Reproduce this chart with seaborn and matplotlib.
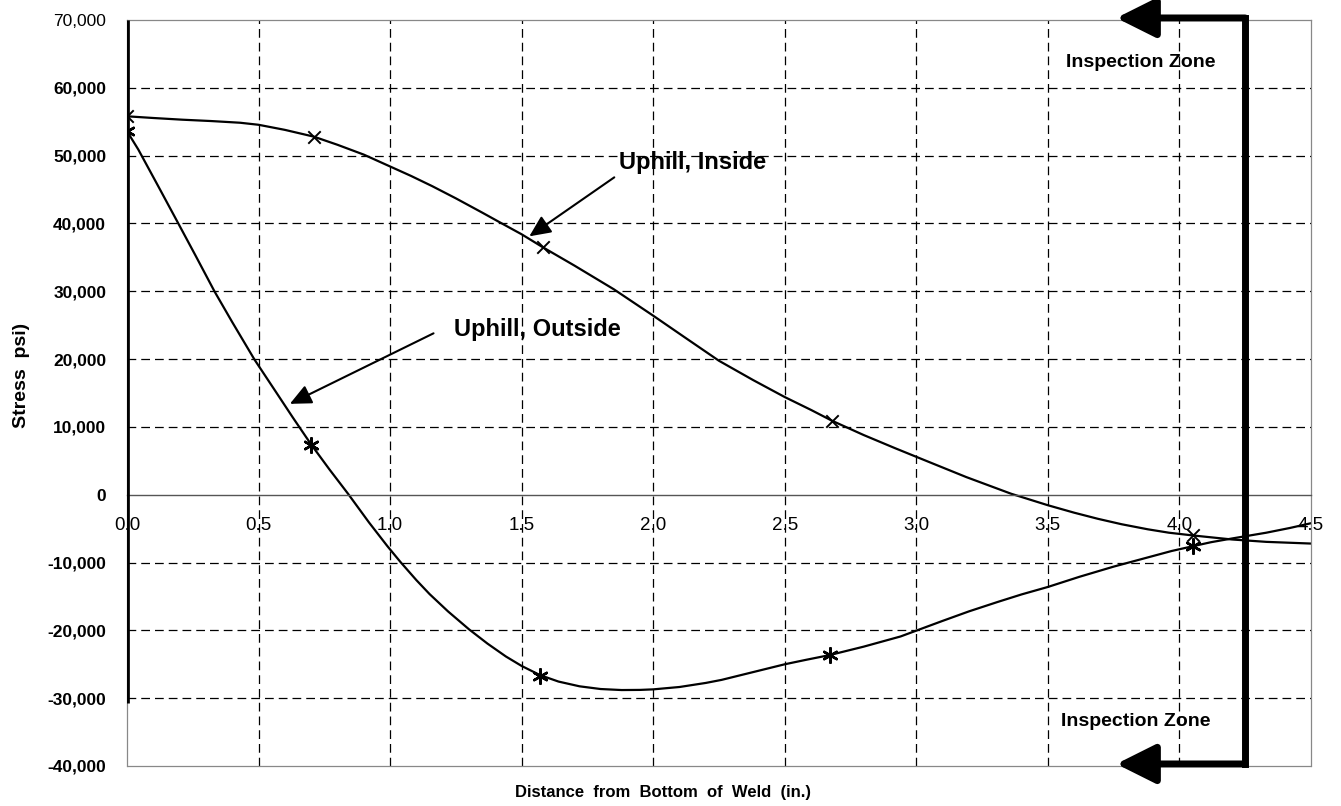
import numpy as np
import pandas as pd
import matplotlib
matplotlib.use('Agg')
import matplotlib.pyplot as plt
import seaborn as sns

# Marker points
inside_mx = [0.0, 0.71, 1.58, 2.68, 4.05]
inside_my = [55800, 52800, 36500, 10900, -6000]
outside_mx = [0.0, 0.70, 1.57, 2.67, 4.05]
outside_my = [53600, 7400, -26700, -23650, -7600]

# Traced points along the smoothed curves
inside_x = [0.0, 0.10, 0.21, 0.32, 0.43, 0.50, 0.60, 0.71, 0.80, 0.90, 1.00, 1.08, 1.16, 1.25,
            1.35, 1.42, 1.50, 1.58, 1.70, 1.85, 2.00, 2.12, 2.25, 2.38, 2.50, 2.60, 2.68, 2.80,
            2.92, 3.05, 3.19, 3.36, 3.50, 3.60, 3.69, 3.78, 3.88, 3.96, 4.05, 4.20, 4.33, 4.50]
inside_y = [55800, 55550, 55300, 55100, 54850, 54550, 53800, 52800, 51600, 50150, 48400, 47000,
            45500, 43700, 41600, 40100, 38400, 36500, 33800, 30300, 26400, 23200, 19750, 16900,
            14400, 12500, 10900, 8800, 6850, 4800, 2600, 150, -1550, -2650, -3550, -4350, -5100,
            -5600, -6000, -6600, -6950, -7200]
outside_x = [0.0, 0.043, 0.12, 0.195, 0.26, 0.333, 0.40, 0.485, 0.567, 0.63, 0.70, 0.77, 0.84,
             0.92, 0.99, 1.04, 1.10, 1.15, 1.22, 1.30, 1.37, 1.44, 1.50, 1.57, 1.64, 1.72, 1.80,
             1.88, 1.95, 2.00, 2.10, 2.20, 2.26, 2.38, 2.50, 2.58, 2.67, 2.80, 2.94, 3.10, 3.20,
             3.31, 3.40, 3.50, 3.62, 3.75, 3.86, 3.97, 4.05, 4.12, 4.20, 4.33, 4.42, 4.50]
outside_y = [53600, 50900, 45400, 40000, 35300, 29950, 25450, 19900, 15100, 11400, 7400, 3700,
             150, -4100, -7600, -9950, -12600, -14650, -17200, -19850, -21950, -23850, -25250,
             -26600, -27550, -28250, -28650, -28800, -28780, -28700, -28350, -27750, -27300,
             -26150, -25000, -24350, -23650, -22400, -20900, -18600, -17200, -15800, -14700,
             -13600, -12100, -10600, -9450, -8300, -7600, -7000, -6450, -5600, -4900, -4200]

x_ticks = [0.0, 0.5, 1.0, 1.5, 2.0, 2.5, 3.0, 3.5, 4.0, 4.5]
y_ticks = [-40000, -30000, -20000, -10000, 0, 10000, 20000, 30000, 40000, 50000, 60000, 70000]

# inspection zone marker and the thick bar at x = 0
zone_x = 4.25
zone_top, zone_bottom = 70300, -39700
zone_tip = 3.76
bar_top, bar_bottom = 70000, -30700

sns.set_style('white')
plt.rcParams['font.family'] = ['Liberation Sans', 'DejaVu Sans']
for key in ['text.color', 'axes.labelcolor', 'xtick.color', 'ytick.color']:
    plt.rcParams[key] = 'black'

fig = plt.figure(figsize=(13.41, 8.06), dpi=100)
ax = fig.add_axes([127 / 1341, 40 / 806, 1184 / 1341, 746 / 806])

curves = pd.concat([
    pd.DataFrame({'x': inside_x, 'y': inside_y, 's': 'Uphill, Inside'}),
    pd.DataFrame({'x': outside_x, 'y': outside_y, 's': 'Uphill, Outside'}),
])
sns.lineplot(data=curves, x='x', y='y', units='s', estimator=None, sort=False,
             color='black', lw=1.6, ax=ax, legend=False)
sns.scatterplot(x=inside_mx, y=inside_my, marker='x', s=80, color='black', linewidth=1.4, ax=ax, zorder=5)
sns.scatterplot(x=outside_mx, y=outside_my, marker=(6, 2, 0), s=110, color='black', linewidth=1.8,
                ax=ax, zorder=5)

# x axis sits on the zero line (set before the tick labels, it resets them)
ax.spines['bottom'].set_position(('data', 0))
ax.spines['bottom'].set_color('#555555')
ax.spines['bottom'].set_linewidth(1.0)

ax.set_xlim(0, 4.5)
ax.set_ylim(-40000, 70000)
ax.set_xticks(x_ticks)
ax.set_yticks(y_ticks)
ax.set_xticklabels([f'{v:.1f}' for v in x_ticks], fontsize=13.5)
ax.set_yticklabels([f'{v:,.0f}' for v in y_ticks], fontsize=12.5, fontweight='bold')
ax.get_yticklabels()[-1].set_fontweight('normal')
ax.tick_params(axis='x', length=0, pad=16)
ax.tick_params(axis='y', length=7, width=0.8, pad=8, color='#444')
ax.set_xlabel('')
ax.set_ylabel('')

# dashed grid, hiding lines that sit on the frame or the zero axis
ax.grid(True, color='black', lw=0.9, linestyle=(0, (7, 4)))
for v, gl in zip(y_ticks, ax.yaxis.get_gridlines()):
    if v in (y_ticks[0], y_ticks[-1], 0):
        gl.set_visible(False)
for v, gl in zip(x_ticks, ax.xaxis.get_gridlines()):
    if v in (x_ticks[0], x_ticks[-1]):
        gl.set_visible(False)

for side in ['left', 'top', 'right']:
    ax.spines[side].set_color('#888888')
    ax.spines[side].set_linewidth(0.9)
ax.axhline(y_ticks[0], color='#888888', lw=0.9, clip_on=False)

# thick bar along the left axis
ax.plot([0, 0], [bar_top, bar_bottom], color='black', lw=3.4, solid_capstyle='butt', zorder=4)

# inspection zone bracket
ax.plot([zone_x, zone_x], [zone_top, zone_bottom], color='black', lw=5, clip_on=False,
        solid_capstyle='projecting', zorder=6)
for yy in (zone_top, zone_bottom):
    ax.annotate('', xy=(zone_tip, yy), xytext=(zone_x, yy), annotation_clip=False,
                arrowprops=dict(arrowstyle='-|>,head_length=2.4,head_width=1.2', lw=5,
                                color='black', shrinkA=0, shrinkB=0, mutation_scale=10))
ax.text(3.567, 63700, 'Inspection Zone', fontsize=14, fontweight='bold', va='center', ha='left')
ax.text(3.55, -33500, 'Inspection Zone', fontsize=14, fontweight='bold', va='center', ha='left')

# curve labels with arrows
ax.annotate('', xy=(1.529, 38100), xytext=(1.852, 46800),
            arrowprops=dict(arrowstyle='-|>,head_length=1.3,head_width=0.6', lw=1.5,
                            color='black', shrinkA=0, shrinkB=0, mutation_scale=10))
ax.text(1.87, 49000, 'Uphill, Inside', fontsize=17, fontweight='bold', va='center', ha='left')
ax.annotate('', xy=(0.619, 13400), xytext=(1.165, 23800),
            arrowprops=dict(arrowstyle='-|>,head_length=1.3,head_width=0.6', lw=1.5,
                            color='black', shrinkA=0, shrinkB=0, mutation_scale=10))
ax.text(1.241, 24400, 'Uphill, Outside', fontsize=17, fontweight='bold', va='center', ha='left')

fig.text(663 / 1341, 1 - 792 / 806, 'Distance  from  Bottom  of  Weld  (in.)', fontsize=12,
         fontweight='bold', ha='center', va='center')
fig.text(22 / 1341, 1 - 375 / 806, 'Stress  psi)', fontsize=14, fontweight='bold',
         ha='center', va='center', rotation=90)

fig.savefig('out.png', dpi=100)
